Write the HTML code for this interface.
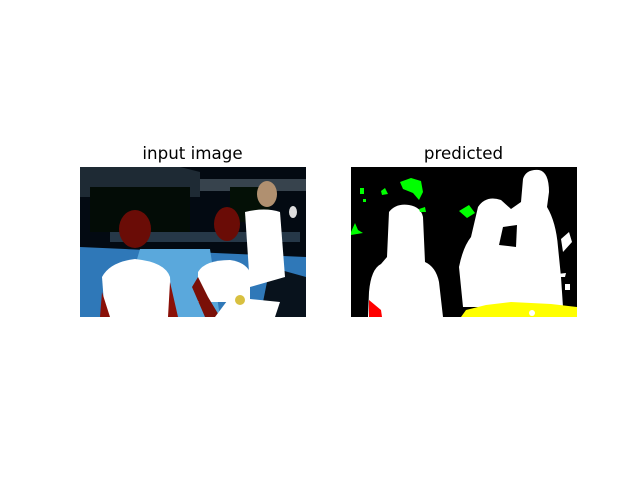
<!DOCTYPE html>
<html><head><meta charset="utf-8"><style>
body{margin:0;background:#fff;}
svg{display:block;}
text{font-family:"DejaVu Sans","Liberation Sans",sans-serif;font-size:16.7px;fill:#000;}
</style></head><body>
<svg width="640" height="480">
<text x="192.5" y="159" text-anchor="middle">input image</text>
<text x="463.5" y="159" text-anchor="middle">predicted</text>
<g transform="translate(80,167)">
<rect width="226" height="150" fill="#030a12"/>
<polygon points="0,0 100,0 120,5 120,30 0,30" fill="#3a4a56" opacity="0.5"/>
<rect x="120" y="12" width="106" height="12" fill="#8898a8" opacity="0.4"/>
<rect x="10" y="20" width="100" height="45" fill="#030c06"/>
<rect x="150" y="20" width="40" height="35" fill="#041006"/>
<rect x="30" y="65" width="190" height="10" fill="#6a90b0" opacity="0.35"/>
<polygon points="0,80 226,90 226,150 0,150" fill="#2f78b8"/>
<polygon points="60,82 130,82 140,150 40,150" fill="#5aa8dc"/>
<polygon points="190,100 226,110 226,150 180,150" fill="#08121c"/>
<ellipse cx="55" cy="62" rx="16" ry="19" fill="#6a0c06"/>
<path d="M25,150 L22,110 Q30,95 55,92 Q85,95 90,110 L92,150Z" fill="#fff"/>
<path d="M20,150 L22,125 L30,150Z M90,115 L98,150 L88,150Z" fill="#8a1008"/>
<ellipse cx="147" cy="57" rx="13" ry="17" fill="#6a0c06"/>
<path d="M118,135 L118,105 Q125,93 150,93 Q165,95 170,105 L170,135Z" fill="#fff"/>
<path d="M118,110 L112,120 L125,150 L140,150 L128,130Z" fill="#7a1008"/>
<ellipse cx="187" cy="27" rx="10" ry="13" fill="#b09070"/>
<path d="M165,45 Q185,40 200,45 L205,110 L170,120Z" fill="#fff"/>
<ellipse cx="213" cy="45" rx="4" ry="6" fill="#ddd"/>
<path d="M150,130 L200,135 L195,150 L135,150Z" fill="#fff"/>
<circle cx="160" cy="133" r="5" fill="#d8c040"/>
</g>
<g transform="translate(351,167)">
<rect width="226" height="150" fill="#000"/>
<path d="M38,45 Q45,36 58,38 Q70,40 72,50 L74,95 Q85,100 88,115 L92,150 L17,150 L18,125 Q20,102 30,97 L36,90 Z" fill="#fff"/>
<path d="M18,133 L30,143 L31,150 L18,150Z" fill="#f00"/>
<path d="M112,140 L108,100 Q112,80 120,70 L127,40 Q135,28 150,33 L160,42 L170,35 L172,12 Q175,2 188,3 Q198,5 198,25 L196,40 Q205,55 207,80 L210,110 L212,140 Z" fill="#fff"/>
<path d="M152,60 L166,58 L165,80 L148,78Z" fill="#000"/>
<path d="M210,72 L218,65 L221,75 L212,85Z M206,107 L215,106 L214,110 L206,110Z M214,117 L219,117 L219,123 L214,123Z" fill="#fff"/>
<path d="M110,150 L115,143 L135,138 L160,135 L200,137 L226,140 L226,150Z" fill="#ff0"/>
<circle cx="181" cy="146" r="3" fill="#fff"/>
<path d="M49,15 L60,11 L70,14 L72,25 L68,33 L62,26 L52,22Z" fill="#0f0"/>
<path d="M108,44 L118,38 L124,46 L116,51Z M30,24 L34,21 L37,27 L31,28Z M9,21 L13,21 L13,27 L9,27Z M0,65 L4,56 L7,63 L12,66 L0,68Z M68,42 L74,40 L75,45 L69,45Z M12,32 L15,32 L15,35 L12,35Z" fill="#0f0"/>
</g>
</svg>
</body></html>
